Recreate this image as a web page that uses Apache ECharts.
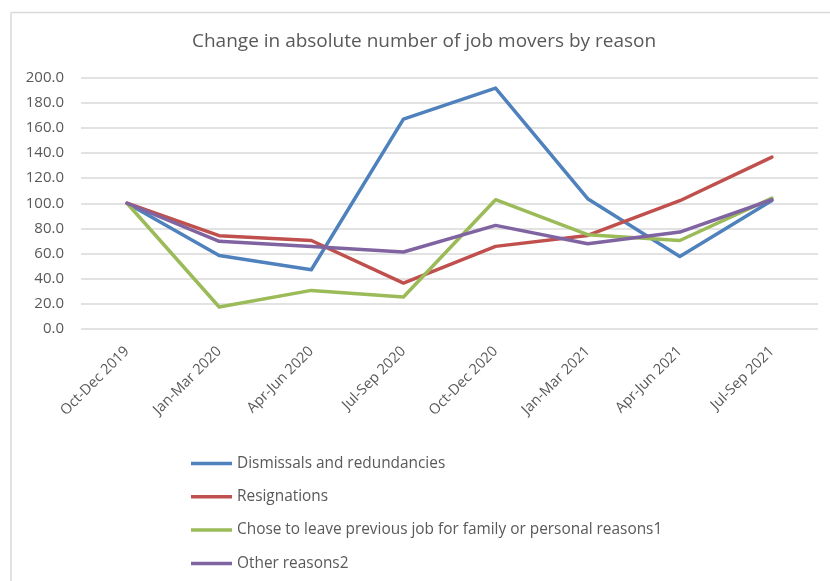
<!DOCTYPE html>
<html>
<head>
<meta charset="utf-8">
<script src="https://cdn.jsdelivr.net/npm/echarts@6/dist/echarts.min.js"></script>
<style>
  html, body { margin: 0; padding: 0; background: #ffffff; }
  #chart { width: 830px; height: 581px; }
</style>
</head>
<body>
<div id="chart"></div>
<script>
// Quarters on the horizontal axis
const quarters = ['Oct-Dec 2019', 'Jan-Mar 2020', 'Apr-Jun 2020', 'Jul-Sep 2020',
                  'Oct-Dec 2020', 'Jan-Mar 2021', 'Apr-Jun 2021', 'Jul-Sep 2021'];

// Index values (Oct-Dec 2019 = 100) for each reason
const dismissals   = [100, 58.5, 47.1, 166.9, 191.6, 103.6, 57.7, 102.2];
const resignations = [100, 74.2, 70.4, 36.5, 65.7, 74.4, 102.0, 136.7];
const familyReasons = [100, 17.5, 30.7, 25.4, 102.8, 75.0, 70.4, 104.1];
const otherReasons = [100, 69.7, 65.7, 61.2, 82.4, 67.8, 77.1, 102.8];

const seriesNames = ['Dismissals and redundancies', 'Resignations',
  'Chose to leave previous job for family or personal reasons1', 'Other reasons2'];
const seriesData = [dismissals, resignations, familyReasons, otherReasons];
const seriesColors = ['#4f81bd', '#c0504d', '#9bbb59', '#8064a2'];

const FONT = '"Open Sans", Lato, sans-serif';
const TEXT = '#595959';

const chart = echarts.init(document.getElementById('chart'), null, { renderer: 'canvas' });

chart.setOption({
  backgroundColor: '#ffffff',
  animation: false,
  title: {
    text: 'Change in absolute number of job movers by reason',
    left: 192,
    top: 32,
    padding: 0,
    textStyle: { fontFamily: FONT, fontSize: 19, fontWeight: 'normal', color: TEXT }
  },
  grid: { left: 81, right: 12, top: 77.5, bottom: 252, containLabel: false },
  legend: {
    orient: 'vertical',
    left: 191,
    top: 453,
    padding: 0,
    icon: 'rect',
    itemWidth: 41,
    itemHeight: 3.5,
    itemGap: 12.3,
    itemTextGap: 4,
    textStyle: { fontFamily: FONT, fontSize: 15.4, color: TEXT, lineHeight: 21 },
    data: seriesNames
  },
  xAxis: {
    type: 'category',
    data: quarters,
    boundaryGap: true,
    axisLine: { show: false },
    axisTick: { show: false },
    axisLabel: {
      rotate: 45,
      margin: 20,
      interval: 0,
      fontFamily: FONT,
      fontSize: 14.5,
      color: TEXT
    }
  },
  yAxis: {
    type: 'value',
    min: 0,
    max: 200,
    interval: 20,
    axisLine: { show: false },
    axisTick: { show: false },
    axisLabel: {
      margin: 17,
      fontFamily: FONT,
      fontSize: 15,
      color: TEXT,
      formatter: v => v.toFixed(1)
    },
    splitLine: { lineStyle: { color: '#d9d9d9', width: 1.5 } }
  },
  series: seriesNames.map((name, i) => ({
    name: name,
    type: 'line',
    data: seriesData[i],
    symbol: 'none',
    showSymbol: false,
    lineStyle: { color: seriesColors[i], width: 3.5, cap: 'round', join: 'round' },
    itemStyle: { color: seriesColors[i] }
  })),
  graphic: [
    { type: 'line', shape: { x1: 11, y1: 12.5, x2: 830, y2: 12.5 },
      style: { stroke: '#d9d9d9', lineWidth: 1.5 } },
    { type: 'line', shape: { x1: 11, y1: 12.5, x2: 11, y2: 581 },
      style: { stroke: '#d9d9d9', lineWidth: 1.5 } }
  ]
});
</script>
</body>
</html>
